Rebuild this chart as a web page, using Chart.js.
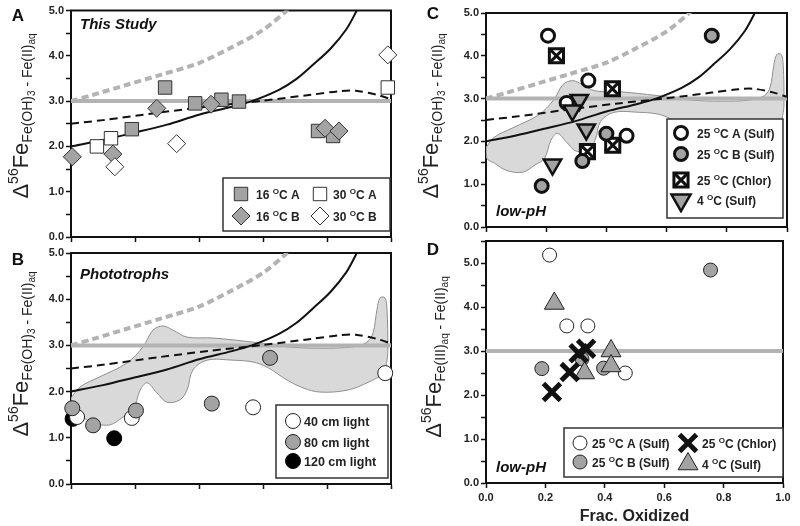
<!DOCTYPE html>
<html>
<head>
<meta charset="utf-8">
<script src="https://cdn.jsdelivr.net/npm/chart.js@4.4.1/dist/chart.umd.min.js"></script>
<style>
  body { margin: 0; background: #fff; }
  #wrap { position: relative; width: 800px; height: 526px; }
  #wrap canvas { position: absolute; left: 0; top: 0; }
</style>
</head>
<body>
<div id="wrap">
  <canvas id="chartA" width="800" height="526"></canvas>
  <canvas id="chartB" width="800" height="526"></canvas>
  <canvas id="chartC" width="800" height="526"></canvas>
  <canvas id="chartD" width="800" height="526"></canvas>
</div>
<script>
// model curves shared by panels A, B, C (x = fraction oxidized)
const eqLineX = [0, 1];
const eqLineY = [3.0, 3.0];
const grayDashX = [0, 0.07, 0.175, 0.28, 0.40, 0.50, 0.60, 0.675, 0.72];
const grayDashY = [3.0, 3.14, 3.36, 3.58, 3.84, 4.18, 4.57, 5.0, 5.3];
const blackSolidX = [0, 0.1, 0.19, 0.3, 0.4, 0.5, 0.565, 0.65, 0.705, 0.756, 0.81, 0.86, 0.893, 0.92];
const blackSolidY = [2.0, 2.14, 2.29, 2.48, 2.70, 2.87, 3.0, 3.25, 3.49, 3.80, 4.15, 4.58, 5.0, 5.4];
const blackDashX = [0, 0.1, 0.28, 0.43, 0.6, 0.75, 0.84, 0.89, 0.956, 1.0];
const blackDashY = [2.5, 2.58, 2.75, 2.88, 3.01, 3.14, 3.22, 3.23, 3.14, 3.04];

// shaded envelope (panels B, C), outline going round
const envX = [0.0, 0.028, 0.09, 0.175, 0.225, 0.256, 0.2875, 0.319, 0.3625, 0.444, 0.569, 0.675, 0.778, 0.881,
  0.925, 0.944, 0.956, 0.966, 0.981, 0.9875, 0.99, 0.9875, 0.975, 0.925, 0.8625, 0.778, 0.725, 0.675, 0.6125,
  0.569, 0.506, 0.425, 0.381, 0.3625, 0.34, 0.3, 0.269, 0.2375, 0.216, 0.194, 0.1625, 0.122, 0.069, 0.028, 0.003, 0.0];
const envY = [1.86, 2.10, 2.32, 2.62, 2.97, 3.33, 3.42, 3.33, 3.18, 3.16, 3.07, 2.97, 2.94, 2.97,
  3.07, 3.27, 3.77, 4.03, 4.03, 3.77, 2.97, 2.68, 2.40, 2.19, 2.03, 1.99, 2.08, 2.25, 2.53,
  2.64, 2.68, 2.68, 2.47, 2.03, 1.82, 1.77, 1.97, 2.19, 2.03, 1.60, 1.45, 1.28, 1.32, 1.49, 1.60, 1.86];

// panel A: This Study
const a16AX = [0.19, 0.294, 0.388, 0.47, 0.525, 0.772, 0.819];
const a16AY = [2.38, 3.30, 2.95, 3.03, 2.99, 2.34, 2.23];
const a16BX = [0.004, 0.131, 0.268, 0.4375, 0.794, 0.8375];
const a16BY = [1.77, 1.83, 2.84, 2.93, 2.40, 2.34];
const a30AX = [0.081, 0.125, 0.99];
const a30AY = [2.0, 2.18, 3.30];
const a30BX = [0.137, 0.33, 0.99];
const a30BY = [1.55, 2.06, 4.02];

// panel B: Phototrophs
const b40X = [0.019, 0.19, 0.569, 0.982];
const b40Y = [1.45, 1.43, 1.66, 2.40];
const b80X = [0.004, 0.069, 0.203, 0.44, 0.622];
const b80Y = [1.64, 1.27, 1.59, 1.74, 2.73];
const b120X = [0.005, 0.135];
const b120Y = [1.41, 0.99];

// panel C: low-pH, Fe(OH)3 - Fe(II)aq
const c25AX = [0.206, 0.34, 0.268, 0.467];
const c25AY = [4.47, 3.42, 2.90, 2.13];
const c25BX = [0.75, 0.185, 0.32, 0.40];
const c25BY = [4.47, 0.96, 1.54, 2.18];
const cChlX = [0.234, 0.42, 0.337, 0.421];
const cChlY = [4.0, 3.23, 1.76, 1.91];
const c4X = [0.31, 0.287, 0.333, 0.221];
const c4Y = [2.97, 2.72, 2.28, 1.46];

// panel D: low-pH, Fe(III)aq - Fe(II)aq
const d25AX = [0.214, 0.272, 0.343, 0.469];
const d25AY = [5.18, 3.57, 3.57, 2.50];
const d25BX = [0.756, 0.188, 0.323, 0.396];
const d25BY = [4.84, 2.60, 2.82, 2.61];
const dChlX = [0.222, 0.282, 0.312, 0.337];
const dChlY = [2.07, 2.52, 2.95, 3.05];
const d4X = [0.23, 0.332, 0.421, 0.421];
const d4Y = [4.08, 2.50, 3.00, 2.66];

const FONT = "'Liberation Sans', Arial, sans-serif";
Chart.defaults.font.family = FONT;
Chart.defaults.color = '#222';
const GRAY = '#a3a3a3';

function f(size, style) { return (style || '') + ' ' + size + 'px ' + FONT; }
function pts(xs, ys) { return xs.map((x, i) => ({ x: x, y: ys[i] })); }

// marker styles
const mk16A = { style: 'rect', r: 9.5, fill: GRAY, stroke: '#333', bw: 1 };
const mk30A = { style: 'rect', r: 9.5, fill: '#fff', stroke: '#333', bw: 1 };
const mk16B = { style: 'rectRot', r: 9, fill: GRAY, stroke: '#333', bw: 1 };
const mk30B = { style: 'rectRot', r: 9, fill: '#fff', stroke: '#333', bw: 1 };
const mk40 = { style: 'circle', r: 7.5, fill: '#fff', stroke: '#222', bw: 1 };
const mk80 = { style: 'circle', r: 7.5, fill: GRAY, stroke: '#222', bw: 1 };
const mk120 = { style: 'circle', r: 7.5, fill: '#000', stroke: '#000', bw: 1 };
const mkC25A = { style: 'circle', r: 6.5, fill: '#fff', stroke: '#111', bw: 3 };
const mkC25B = { style: 'circle', r: 6.5, fill: GRAY, stroke: '#111', bw: 3 };
const mkCChl = { style: 'boxX', r: 10, fill: '#fff', stroke: '#111', bw: 3 };
const mkC4 = { style: 'triangle', r: 10, rot: 180, fill: GRAY, stroke: '#111', bw: 2.5 };
const mkD25A = { style: 'circle', r: 7, fill: '#fff', stroke: '#222', bw: 1 };
const mkD25B = { style: 'circle', r: 7, fill: GRAY, stroke: '#222', bw: 1 };
const mkDChl = { style: 'crossRot', r: 12, fill: '#111', stroke: '#111', bw: 5 };
const mkD4 = { style: 'triangle', r: 11.5, fill: GRAY, stroke: '#222', bw: 1 };

function markerSet(label, xs, ys, m, style) {
  return {
    label: label, data: pts(xs, ys), showLine: false, clip: false,
    pointStyle: style || m.style, pointRadius: m.r, pointHoverRadius: m.r,
    pointBackgroundColor: m.fill, pointBorderColor: m.stroke,
    pointBorderWidth: m.bw, pointHoverBorderWidth: m.bw, pointRotation: m.rot || 0
  };
}
function boxXSets(label, xs, ys, m) {
  return [markerSet(label, xs, ys, m, 'crossRot'), markerSet(label, xs, ys, m, 'rect')];
}
function curve(xs, ys, color, width, dash) {
  return {
    data: pts(xs, ys), showLine: true, pointRadius: 0, pointHoverRadius: 0,
    borderColor: color, borderWidth: width, borderDash: dash || [], tension: 0.3, fill: false
  };
}
function envelope() {
  return {
    data: pts(envX, envY), showLine: true, pointRadius: 0, pointHoverRadius: 0,
    borderColor: '#8f8f8f', borderWidth: 1, backgroundColor: '#d9d9d9', fill: 'shape', tension: 0.35
  };
}
function modelCurves() {
  return [
    curve(blackSolidX, blackSolidY, '#111', 2),
    curve(blackDashX, blackDashY, '#111', 2, [8, 5]),
    curve(grayDashX, grayDashY, '#b3b3b3', 4, [7, 4]),
    curve(eqLineX, eqLineY, '#b3b3b3', 4)
  ];
}

// legend/marker drawing for the boxed legends
function drawMarker(ctx, m, x, y) {
  const r = m.r;
  ctx.save();
  ctx.fillStyle = m.fill; ctx.strokeStyle = m.stroke; ctx.lineWidth = m.bw;
  ctx.beginPath();
  if (m.style === 'circle') {
    ctx.arc(x, y, r, 0, Math.PI * 2);
  } else if (m.style === 'rect' || m.style === 'boxX') {
    const s = r * Math.SQRT1_2;
    ctx.rect(x - s, y - s, 2 * s, 2 * s);
  } else if (m.style === 'rectRot') {
    ctx.moveTo(x - r, y); ctx.lineTo(x, y - r); ctx.lineTo(x + r, y); ctx.lineTo(x, y + r); ctx.closePath();
  } else if (m.style === 'triangle') {
    let a = (m.rot || 0) * Math.PI / 180;
    ctx.moveTo(x + Math.sin(a) * r, y - Math.cos(a) * r);
    a += 2 * Math.PI / 3; ctx.lineTo(x + Math.sin(a) * r, y - Math.cos(a) * r);
    a += 2 * Math.PI / 3; ctx.lineTo(x + Math.sin(a) * r, y - Math.cos(a) * r);
    ctx.closePath();
  }
  if (m.style !== 'crossRot') { ctx.fill(); ctx.stroke(); }
  if (m.style === 'crossRot' || m.style === 'boxX') {
    const c = r * Math.SQRT1_2;
    ctx.beginPath();
    ctx.moveTo(x - c, y - c); ctx.lineTo(x + c, y + c);
    ctx.moveTo(x - c, y + c); ctx.lineTo(x + c, y - c);
    ctx.stroke();
  }
  ctx.restore();
}

function rich(ctx, segs, x, y, align) {
  let w = 0;
  segs.forEach(s => { ctx.font = s[1]; w += ctx.measureText(s[0]).width; });
  let cx = align === 'center' ? x - w / 2 : x;
  ctx.textAlign = 'left'; ctx.textBaseline = 'alphabetic';
  segs.forEach(s => {
    ctx.font = s[1];
    ctx.fillText(s[0], cx, y + (s[2] || 0));
    cx += ctx.measureText(s[0]).width;
  });
}

function deg(pre, post) {
  return [[pre, f(12, 'bold')], ['O', f(8, 'bold'), -5], [post, f(12, 'bold')]];
}
const titleOH = [['\u0394', f(22)], ['56', f(14), -10], ['Fe', f(22)], ['Fe(OH)', f(14), 4], ['3', f(10), 7],
  [' - Fe(II)', f(14), 4], ['aq', f(10), 7]];
const titleIII = [['\u0394', f(22)], ['56', f(14), -10], ['Fe', f(22)], ['Fe(III)', f(14), 4], ['aq', f(10), 7],
  [' - Fe(II)', f(14), 4], ['aq', f(10), 7]];

const deco = {
  chartA: {
    letter: ['A', 18, 21], note: ['This Study', 80, 29],
    title: { x: 28, y: 116, segs: titleOH },
    legend: { box: [223, 178, 390, 231], items: [
      { m: mk16A, x: 241, y: 194, tx: 256, t: deg('16 ', 'C A') },
      { m: mk30A, x: 320, y: 194, tx: 333, t: deg('30 ', 'C A') },
      { m: mk16B, x: 241, y: 216, tx: 256, t: deg('16 ', 'C B') },
      { m: mk30B, x: 320, y: 216, tx: 333, t: deg('30 ', 'C B') }
    ] }
  },
  chartB: {
    letter: ['B', 18, 265], note: ['Phototrophs', 80, 279],
    title: { x: 28, y: 354, segs: titleOH },
    legend: { box: [276, 405, 388, 478], items: [
      { m: mk40, x: 293, y: 421, tx: 304, t: [['40 cm light', f(12.5, 'bold')]] },
      { m: mk80, x: 293, y: 442, tx: 304, t: [['80 cm light', f(12.5, 'bold')]] },
      { m: mk120, x: 293, y: 461, tx: 304, t: [['120 cm light', f(12.5, 'bold')]] }
    ] }
  },
  chartC: {
    letter: ['C', 433, 19], note: ['low-pH', 496, 216],
    title: { x: 438, y: 116, segs: titleOH },
    legend: { box: [667, 119, 783, 218], items: [
      { m: mkC25A, x: 681, y: 133, tx: 697, t: deg('25 ', 'C A (Sulf)') },
      { m: mkC25B, x: 681, y: 154, tx: 697, t: deg('25 ', 'C B (Sulf)') },
      { m: mkCChl, x: 681, y: 180, tx: 697, t: deg('25 ', 'C (Chlor)') },
      { m: Object.assign({}, mkC4, { r: 11 }), x: 681, y: 200, tx: 697, t: deg('4 ', 'C (Sulf)') }
    ] }
  },
  chartD: {
    letter: ['D', 433, 255], note: ['low-pH', 496, 472],
    title: { x: 441, y: 357, segs: titleIII },
    legend: { box: [564, 428, 783, 477], items: [
      { m: mkD25A, x: 580, y: 443, tx: 592, t: deg('25 ', 'C A (Sulf)') },
      { m: mkDChl, x: 688, y: 443, tx: 702, t: deg('25 ', 'C (Chlor)') },
      { m: mkD25B, x: 580, y: 462, tx: 592, t: deg('25 ', 'C B (Sulf)') },
      { m: mkD4, x: 688, y: 464, tx: 702, t: deg('4 ', 'C (Sulf)') }
    ] }
  }
};

const panelDeco = {
  id: 'panelDeco',
  beforeDatasetsDraw(chart) {
    const a = chart.chartArea, ctx = chart.ctx;
    ctx.save();
    ctx.strokeStyle = '#111'; ctx.lineWidth = 2;
    ctx.strokeRect(a.left, a.top, a.right - a.left, a.bottom - a.top);
    ctx.restore();
  },
  afterDraw(chart) {
    const d = deco[chart.canvas.id];
    const ctx = chart.ctx;
    ctx.save();
    ctx.fillStyle = '#111';
    ctx.textAlign = 'center'; ctx.textBaseline = 'alphabetic';
    ctx.font = f(17, 'bold');
    ctx.fillText(d.letter[0], d.letter[1], d.letter[2]);
    ctx.textAlign = 'left';
    ctx.font = f(15, 'italic bold');
    ctx.fillText(d.note[0], d.note[1], d.note[2]);

    // rotated y-axis title
    ctx.save();
    ctx.translate(d.title.x, d.title.y);
    ctx.rotate(-Math.PI / 2);
    ctx.fillStyle = '#222';
    rich(ctx, d.title.segs, 0, 0, 'center');
    ctx.restore();

    // boxed legend
    const b = d.legend.box;
    ctx.fillStyle = '#fff';
    ctx.fillRect(b[0], b[1], b[2] - b[0], b[3] - b[1]);
    ctx.strokeStyle = '#333'; ctx.lineWidth = 1.5;
    ctx.strokeRect(b[0], b[1], b[2] - b[0], b[3] - b[1]);
    d.legend.items.forEach(it => {
      drawMarker(ctx, it.m, it.x, it.y);
      ctx.fillStyle = '#222';
      rich(ctx, it.t, it.tx, it.y + 4.5, 'left');
    });
    ctx.restore();
  }
};

function isWhole(v) { return Math.abs(v - Math.round(v)) < 1e-6; }

function buildChart(id, datasets, area, yMax, xLabels) {
  const xH = xLabels ? 42 : 6;
  const axisGrid = { drawOnChartArea: false, drawTicks: true, tickLength: 5, tickColor: '#111', tickWidth: 1.5 };
  const axisBorder = { display: true, color: '#111', width: 2 };
  return new Chart(document.getElementById(id), {
    type: 'scatter',
    data: { datasets: datasets },
    options: {
      responsive: false, animation: false, devicePixelRatio: 1, events: [],
      layout: { padding: { left: area[0] - 30, top: area[1], right: 800 - area[2], bottom: 526 - area[3] - xH } },
      plugins: { legend: { display: false }, tooltip: { enabled: false } },
      scales: {
        x: {
          type: 'linear', min: 0, max: 1,
          border: axisBorder, grid: axisGrid,
          ticks: {
            display: xLabels, stepSize: 0.2, autoSkip: false, maxRotation: 0, padding: 3,
            color: '#222', font: { size: 11, weight: 'bold' },
            callback: v => v.toFixed(1)
          },
          title: {
            display: xLabels, text: 'Frac. Oxidized', color: '#222', padding: 0,
            font: { size: 16, weight: 'bold', lineHeight: 1 }
          },
          afterFit: s => { s.height = xH; s.paddingLeft = 0; s.paddingRight = 0; }
        },
        y: {
          type: 'linear', min: 0, max: yMax,
          border: axisBorder, grid: axisGrid,
          ticks: {
            stepSize: 0.5, autoSkip: false, padding: 2, color: '#222',
            font: { size: 11, weight: 'bold' },
            callback: v => isWhole(v) ? v.toFixed(1) : ''
          },
          afterFit: s => { s.width = 30; s.paddingTop = 0; s.paddingBottom = 0; }
        }
      }
    },
    plugins: [panelDeco]
  });
}

buildChart('chartA', [
  markerSet('30 oC B', a30BX, a30BY, mk30B),
  markerSet('30 oC A', a30AX, a30AY, mk30A),
  markerSet('16 oC B', a16BX, a16BY, mk16B),
  markerSet('16 oC A', a16AX, a16AY, mk16A),
  ...modelCurves()
], [71, 8, 391, 237], 5, false);

buildChart('chartB', [
  markerSet('80 cm light', b80X, b80Y, mk80),
  markerSet('40 cm light', b40X, b40Y, mk40),
  markerSet('120 cm light', b120X, b120Y, mk120),
  ...modelCurves(),
  envelope()
], [71, 253, 391, 484], 5, false);

buildChart('chartC', [
  markerSet('4 oC (Sulf)', c4X, c4Y, mkC4),
  markerSet('25 oC A (Sulf)', c25AX, c25AY, mkC25A),
  markerSet('25 oC B (Sulf)', c25BX, c25BY, mkC25B),
  ...boxXSets('25 oC (Chlor)', cChlX, cChlY, mkCChl),
  ...modelCurves(),
  envelope()
], [486, 8, 789, 227], 5, false);

buildChart('chartD', [
  markerSet('25 oC (Chlor)', dChlX, dChlY, mkDChl),
  markerSet('4 oC (Sulf)', d4X, d4Y, mkD4),
  markerSet('25 oC B (Sulf)', d25BX, d25BY, mkD25B),
  markerSet('25 oC A (Sulf)', d25AX, d25AY, mkD25A),
  curve(eqLineX, eqLineY, '#b3b3b3', 4)
], [486, 241, 789, 483], 5.5, true);
</script>
</body>
</html>
